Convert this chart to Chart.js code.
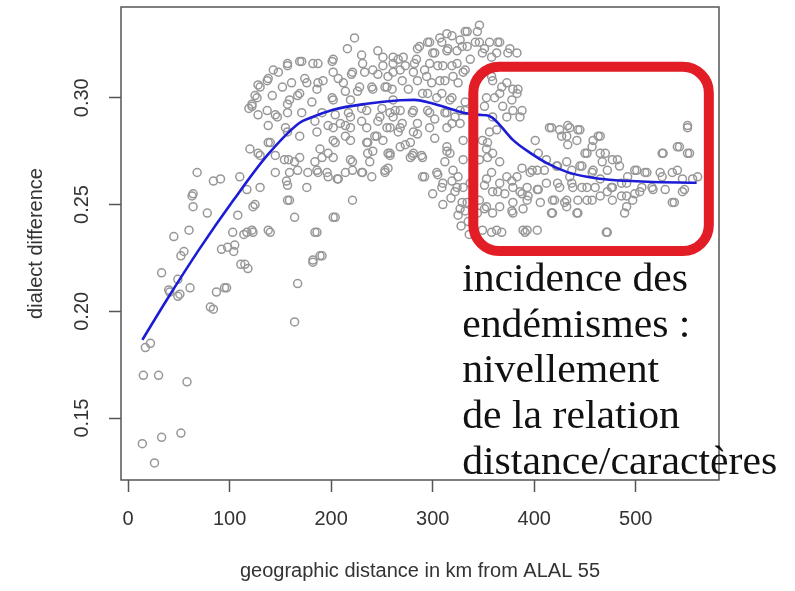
<!DOCTYPE html>
<html>
<head>
<meta charset="utf-8">
<title>dialect difference vs geographic distance</title>
<script src="https://cdn.jsdelivr.net/npm/chart.js@4.4.1/dist/chart.umd.min.js"></script>
<style>
  html, body { margin: 0; padding: 0; background: #fff; }
  #chartBox { width: 795px; height: 591px; }
</style>
</head>
<body>
<div id="chartBox"><canvas id="distanceChart" width="795" height="591"></canvas></div>
<script>
// km from ALAL 55 vs dialect difference
const pointsRising = [
  [64,0.249],[78,0.246],[108,0.245],[114,0.236],[60,0.238],[45,0.235],[55,0.228],[52,0.226],
  [92,0.229],[98,0.230],[104,0.228],[111,0.222],[33,0.218],[49,0.215],[40,0.210],[49,0.207],
  [61,0.211],[87,0.209],[95,0.211],[81,0.202],[17,0.183],[22,0.185],[15,0.170],[30,0.170],
  [58,0.167],[14,0.138],[33,0.141],[52,0.143],[26,0.129],[68,0.265],[84,0.261],[91,0.262],
  [110,0.263],[63,0.254],[105,0.231],[103,0.237],[117,0.237],[123,0.237],[115,0.222],
  [123,0.249],[117,0.257],[130,0.258],[120,0.276],[130,0.273],[125,0.250],[122,0.238],
  [118,0.220],[119,0.295],[64,0.255],[84,0.201],[97,0.211],[41,0.209],[51,0.208],[128,0.274]
];

const pointsPlateau = [
  [140,0.279],[145,0.265],[156,0.261],[159,0.252],[164,0.244],[154,0.271],[159,0.265],[169,0.272],
  [186,0.237],[189,0.226],[167,0.213],[182,0.224],[202,0.244],[221,0.252],[176,0.258],[206,0.262],
  [221,0.266],[231,0.265],[253,0.265],[186,0.266],[196,0.265],[238,0.270],[241,0.275],[256,0.274],
  [219,0.271],[202,0.272],[189,0.276],[202,0.280],[219,0.280],[235,0.279],[251,0.280],[235,0.286],
  [258,0.286],[219,0.286],[202,0.286],[186,0.284],[169,0.282],[157,0.284],[140,0.237],
  [223,0.328],[216,0.323],[246,0.322],[261,0.319],[202,0.318],[182,0.316],[169,0.317],[157,0.315],
  [143,0.313],[137,0.308],[130,0.305],[127,0.300],[122,0.296],[128,0.292],[137,0.294],[147,0.291],
  [157,0.293],[159,0.299],[169,0.302],[176,0.307],[186,0.304],[192,0.308],[202,0.312],[212,0.307],
  [221,0.312],[231,0.316],[241,0.313],[251,0.315],[261,0.312],[202,0.299],[219,0.299],[228,0.305],
  [241,0.304],[255,0.305],[261,0.299],[235,0.294],[248,0.291],[261,0.291],[219,0.291],[209,0.288],
  [245,0.282],[138,0.279],[145,0.273],[158,0.271],[164,0.270],[167,0.266],[177,0.265],[184,0.270],
  [191,0.272],[197,0.274],[204,0.279],[214,0.282],[187,0.265],[197,0.263],[207,0.262],[214,0.265],
  [221,0.270],[230,0.265],[240,0.263],[236,0.274],[236,0.279],[243,0.282],[157,0.259],[157,0.252],
  [138,0.238],[184,0.237],[204,0.244],[191,0.226],[164,0.195],[182,0.223],
  [230,0.320],[201,0.317],[187,0.316],[171,0.317],[157,0.316],[148,0.312],[138,0.309],[128,0.306],
  [122,0.297],[125,0.301],[142,0.301],[152,0.305],[161,0.307],[174,0.309],[187,0.307],[167,0.301],
  [181,0.298],[157,0.297],[145,0.292],[171,0.293],[138,0.287],[155,0.286],[207,0.309],[220,0.311],
  [233,0.312],[246,0.311],[214,0.303],[226,0.303],[240,0.305],[253,0.305],[201,0.300],[191,0.293],
  [204,0.292],[217,0.293],[230,0.295],[250,0.295],[246,0.289],[214,0.287],[230,0.289],[197,0.287],
  [184,0.289],[256,0.267],[258,0.273],[273,0.278],[280,0.273],[289,0.273],[292,0.263],[305,0.264],
  [309,0.258],[319,0.261],[325,0.263],[322,0.256],[329,0.251],[332,0.247],[314,0.275],[302,0.281],
  [285,0.283],[266,0.284],[312,0.270],[300,0.255],[310,0.250],[318,0.253],[325,0.245],[335,0.242],
  [330,0.258],[320,0.266],[340,0.255],[336,0.236],[328,0.240],
  [332,0.331],[319,0.329],[309,0.326],[295,0.326],[285,0.323],[302,0.321],[315,0.323],[329,0.324],
  [266,0.318],[273,0.315],[282,0.316],[292,0.313],[305,0.315],[319,0.315],[332,0.313],[256,0.310],
  [270,0.308],[285,0.308],[299,0.307],[312,0.308],[325,0.307],[260,0.304],[276,0.304],[295,0.302],
  [309,0.302],[319,0.300],[332,0.298],[263,0.294],[280,0.293],[295,0.294],[312,0.293],[322,0.291],
  [332,0.294],[270,0.288],[285,0.288],[302,0.290],[319,0.288]
];

const pointsEast = [
  [346,0.334],[344,0.331],[334,0.331],[327,0.327],[314,0.330],[307,0.328],[297,0.326],[287,0.324],
  [300,0.321],[314,0.322],[324,0.322],[334,0.324],[346,0.326],[356,0.326],[366,0.326],[376,0.323],
  [383,0.321],[363,0.321],[349,0.321],[337,0.318],[324,0.316],[310,0.315],[297,0.316],[284,0.318],
  [271,0.319],[261,0.316],[251,0.319],[268,0.313],[281,0.312],[294,0.310],[307,0.308],[320,0.310],
  [330,0.312],[359,0.308],[373,0.307],[383,0.302],[366,0.302],[353,0.300],[369,0.296],[379,0.294],
  [386,0.291],[379,0.304],[290,0.302],[304,0.300],[317,0.299],[327,0.294],[314,0.293],[297,0.293],
  [281,0.294],[268,0.294],[258,0.293],[255,0.286],[268,0.286],[281,0.284],[297,0.286],[314,0.286],
  [327,0.288],[258,0.274],[268,0.277],[278,0.279],[281,0.274],[290,0.272],[314,0.277],[317,0.274],
  [253,0.266],[278,0.272],[290,0.263],[304,0.265],[310,0.260],[324,0.258],[334,0.251],[327,0.248],
  [346,0.252],[353,0.249],[359,0.256],[366,0.260],[353,0.262],[346,0.271],[353,0.276],[349,0.280],
  [356,0.284],[363,0.285],[373,0.291],[359,0.291],[359,0.274],[366,0.270],[373,0.263],[379,0.258],
  [386,0.256],[383,0.263],[393,0.258],[403,0.257],[412,0.260],[396,0.265],[403,0.266],[412,0.271],
  [422,0.268],[432,0.270],[415,0.286],[425,0.285],[435,0.286],[445,0.285],[442,0.280],[432,0.282],
  [458,0.280],[465,0.282],[452,0.274],[465,0.274],[477,0.271],[484,0.268],[445,0.268],[458,0.266],
  [435,0.263],[425,0.258],[438,0.258],[452,0.258],[465,0.262],[477,0.258],[491,0.260],[501,0.266],
  [511,0.265],[524,0.265],[527,0.274],[543,0.277],[553,0.274],[551,0.286],[536,0.265],[546,0.262],
  [556,0.262],[546,0.256],[536,0.251],[517,0.257],[504,0.256],[491,0.254],[477,0.252],[465,0.254],
  [452,0.252],[432,0.252],[418,0.252],[406,0.251],[393,0.252],[379,0.251],[366,0.249],[359,0.246],
  [379,0.246],[389,0.248],[432,0.249],[442,0.246],[418,0.246],[363,0.238],[389,0.238],[472,0.237],
  [491,0.249],[497,0.252],[403,0.238],[349,0.238],[344,0.246],[337,0.260],[340,0.266],[330,0.271],
  [330,0.280],[342,0.326],[351,0.323],[364,0.326],[374,0.321],[358,0.319],[358,0.310],[368,0.305],
  [384,0.304],[378,0.299],[361,0.300],[351,0.296],[388,0.294],[354,0.279],[354,0.272],[358,0.265],
  [351,0.259],[364,0.256],[351,0.248],[358,0.237],[368,0.237],[378,0.247],[371,0.255],[388,0.255],
  [378,0.261],[388,0.267],[391,0.237],[417,0.286],[433,0.287],[443,0.285],[427,0.282],[401,0.280],
  [404,0.274],[433,0.278],[463,0.282],[457,0.277],[450,0.274],[470,0.274],[482,0.271],[467,0.270],
  [472,0.266],[457,0.265],[447,0.268],[437,0.266],[423,0.268],[410,0.266],[398,0.266],[423,0.260],
  [437,0.260],[447,0.258],[460,0.258],[476,0.258],[486,0.260],[499,0.266],[509,0.265],[526,0.274],
  [541,0.277],[551,0.274],[551,0.287],[541,0.266],[526,0.263],[516,0.258],[506,0.258],[499,0.255],
  [486,0.254],[472,0.256],[457,0.252],[443,0.252],[430,0.251],[420,0.252],[404,0.257],[394,0.254],
  [548,0.257],[538,0.251],[489,0.246],[443,0.246],[417,0.246],[471,0.237],[393,0.238],[561,0.263],
  [529,0.257],[492,0.263]
];

// smoothed trend (blue)
const trendKm = [14, 38, 70, 104, 137, 169, 179, 202, 235, 268, 282, 297, 314, 330, 346, 353, 359, 366, 379, 396, 412, 432, 452, 474, 511, 560];
const trendDiff = [0.1866, 0.2053, 0.2290, 0.2522, 0.2730, 0.2883, 0.2905, 0.2944, 0.2972, 0.2988, 0.2990, 0.2977, 0.2953, 0.2930, 0.2920, 0.2918, 0.2906, 0.2873, 0.2803, 0.2742, 0.2695, 0.2653, 0.2630, 0.2616, 0.2607, 0.2602];

const xTickValues = [0, 100, 200, 300, 400, 500];
const yTickValues = [0.15, 0.20, 0.25, 0.30];

const noteLines = ["incidence des", "endémismes :", "nivellement", "de la relation", "distance/caractères"];

// annotation frame, in data units
const focusBox = { x0: 340, x1: 572, y0: 0.2282, y1: 0.3145 };
const noteAnchor = { x: 329, y: 0.2095 };

const allPoints = pointsRising.concat(pointsPlateau, pointsEast).map(([x, y]) => ({ x, y }));
const trendPoints = trendKm.map((x, i) => ({ x, y: trendDiff[i] }));

const axisFont = { family: "'Liberation Sans', Arial, sans-serif", size: 20 };
const axisColor = "#333";

const framePlugin = {
  id: "frame",
  afterDraw(chart) {
    const { ctx, chartArea, scales } = chart;
    ctx.save();
    // plot box
    ctx.strokeStyle = "#555";
    ctx.lineWidth = 1.5;
    ctx.strokeRect(chartArea.left, chartArea.top, chartArea.right - chartArea.left, chartArea.bottom - chartArea.top);

    // red rounded frame
    const l = scales.x.getPixelForValue(focusBox.x0);
    const r = scales.x.getPixelForValue(focusBox.x1);
    const t = scales.y.getPixelForValue(focusBox.y1);
    const b = scales.y.getPixelForValue(focusBox.y0);
    ctx.strokeStyle = "#e21d26";
    ctx.lineWidth = 10;
    ctx.beginPath();
    ctx.roundRect(l, t, r - l, b - t, 26);
    ctx.stroke();

    // note text
    const nx = scales.x.getPixelForValue(noteAnchor.x);
    const ny = scales.y.getPixelForValue(noteAnchor.y);
    ctx.fillStyle = "#111";
    ctx.font = "39px 'Liberation Serif', 'Times New Roman', serif";
    ctx.textBaseline = "alphabetic";
    noteLines.forEach((line, i) => {
      ctx.save();
      ctx.translate(nx, ny + i * 45.7);
      ctx.scale(1.07, 1);
      ctx.fillText(line, 0, 0);
      ctx.restore();
    });
    ctx.restore();
  },
};

const chart = new Chart(document.getElementById("distanceChart"), {
  type: "scatter",
  data: {
    datasets: [
      {
        type: "line",
        label: "trend",
        data: trendPoints,
        borderColor: "#1c1cd6",
        borderWidth: 2.6,
        pointRadius: 0,
        fill: false,
        cubicInterpolationMode: "monotone",
        order: 0,
      },
      {
        label: "pairs",
        data: allPoints,
        pointStyle: "circle",
        pointRadius: 4,
        borderColor: "#979797",
        borderWidth: 1.5,
        backgroundColor: "rgba(0,0,0,0)",
        order: 1,
      },
    ],
  },
  options: {
    responsive: false,
    animation: false,
    events: [],
    layout: { padding: { top: 7, right: 76, left: 0, bottom: 0 } },
    plugins: {
      legend: { display: false },
      tooltip: { enabled: false },
    },
    scales: {
      x: {
        type: "linear",
        min: -7,
        max: 582,
        afterBuildTicks: (scale) => {
          scale.ticks = xTickValues.map((v) => ({ value: v }));
        },
        afterFit: (scale) => {
          scale.height = 111;
          scale.paddingLeft = 0;
          scale.paddingRight = 0;
        },
        grid: { drawOnChartArea: false, drawTicks: true, tickLength: 12, color: "#555", tickWidth: 1.5 },
        border: { display: false },
        ticks: { font: axisFont, color: axisColor, padding: 15, maxRotation: 0, minRotation: 0, autoSkip: false },
        title: {
          display: true,
          text: "geographic distance in km from ALAL 55",
          font: axisFont,
          color: axisColor,
          padding: { top: 8, bottom: 8 },
        },
      },
      y: {
        type: "linear",
        min: 0.121,
        max: 0.3425,
        afterBuildTicks: (scale) => {
          scale.ticks = yTickValues.map((v) => ({ value: v }));
        },
        afterFit: (scale) => {
          scale.width = 121;
          scale.paddingTop = 0;
          scale.paddingBottom = 0;
        },
        grid: { drawOnChartArea: false, drawTicks: true, tickLength: 12, color: "#555", tickWidth: 1.5 },
        border: { display: false },
        ticks: {
          font: axisFont,
          color: axisColor,
          padding: 7,
          minRotation: 90,
          maxRotation: 90,
          crossAlign: "center",
          autoSkip: false,
          callback: (value) => Number(value).toFixed(2),
        },
        title: {
          display: true,
          text: "dialect difference",
          font: axisFont,
          color: axisColor,
          padding: { top: 24, bottom: 0 },
        },
      },
    },
  },
  plugins: [framePlugin],
});
</script>
</body>
</html>
